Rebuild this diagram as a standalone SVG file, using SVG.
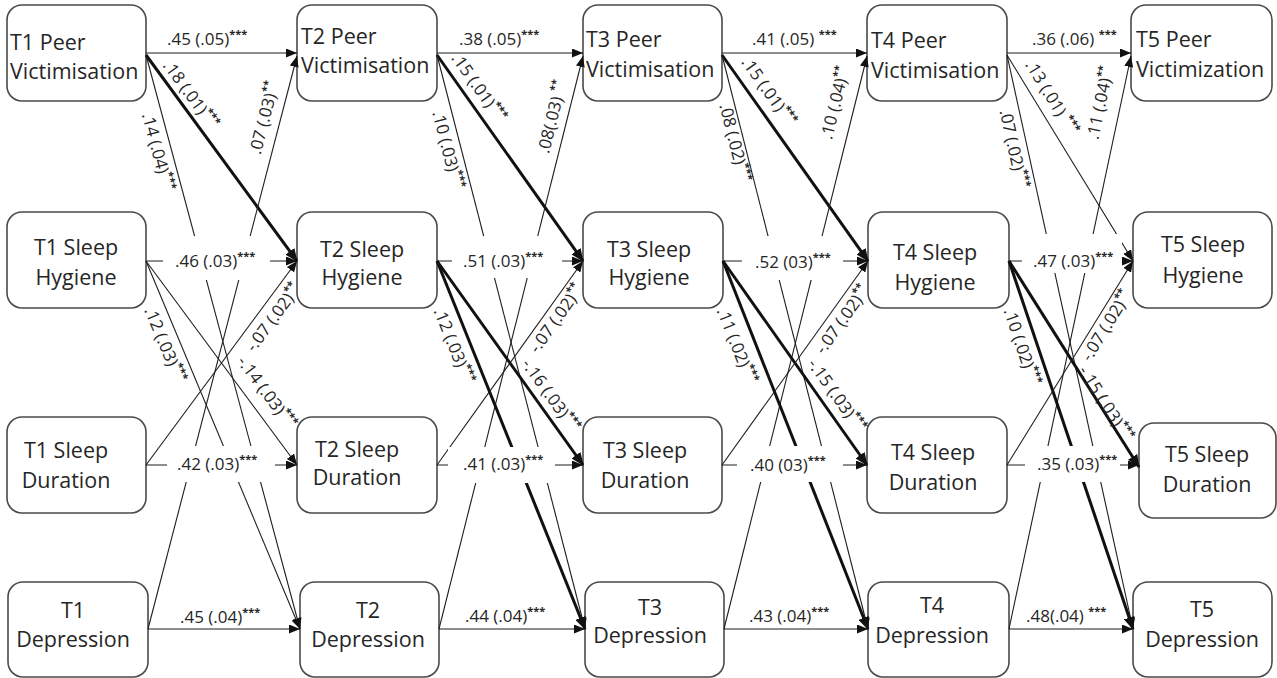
<svg xmlns="http://www.w3.org/2000/svg" width="1277" height="678" viewBox="0 0 1277 678">
<style>
.box{fill:#fff;stroke:#4a4a4a;stroke-width:1.6}
.nt{font-family:'Open Sans','Noto Sans',sans-serif;font-size:21.5px;fill:#262626}
.ntc{text-anchor:middle}
.ln{stroke:#1e1e1e;stroke-width:1.1;fill:none;marker-end:url(#ah)}
.tk{stroke:#111;stroke-width:3;fill:none;marker-end:url(#ahk)}
.lb{font-family:'Open Sans','Noto Sans',sans-serif;font-size:17px;fill:#262626}
.rl{text-anchor:middle}
.st{font-size:11px;font-weight:bold}
.bg{fill:#fff}
</style>
<defs>
<marker id="ah" markerUnits="userSpaceOnUse" markerWidth="11" markerHeight="9" refX="11" refY="4.5" orient="auto"><path d="M0,0 L11,4.5 L0,9 z" fill="#111"/></marker>
<marker id="ahk" markerUnits="userSpaceOnUse" markerWidth="13" markerHeight="11" refX="12" refY="5.5" orient="auto"><path d="M0,0 L13,5.5 L0,11 z" fill="#111"/></marker>
</defs>
<rect width="1277" height="678" fill="#fff"/>

<g id="nodes">
<g id="t1pv"><rect class="box" x="7" y="5" width="139" height="96" rx="15"/><text class="nt" x="10" y="50">T1 Peer</text><text class="nt" x="10" y="79">Victimisation</text></g>
<g id="t2pv"><rect class="box" x="297" y="5" width="140" height="96" rx="15"/><text class="nt" x="301" y="44">T2 Peer</text><text class="nt" x="301" y="73">Victimisation</text></g>
<g id="t3pv"><rect class="box" x="583" y="5" width="139" height="96" rx="15"/><text class="nt" x="586" y="47">T3 Peer</text><text class="nt" x="586" y="77">Victimisation</text></g>
<g id="t4pv"><rect class="box" x="867" y="5" width="140" height="96" rx="15"/><text class="nt" x="871" y="48">T4 Peer</text><text class="nt" x="871" y="78">Victimisation</text></g>
<g id="t5pv"><rect class="box" x="1131" y="5" width="141" height="96" rx="15"/><text class="nt" x="1136" y="47">T5 Peer</text><text class="nt" x="1136" y="77">Victimization</text></g>

<g id="t1sh"><rect class="box" x="7" y="212" width="139" height="96" rx="15"/><text class="nt ntc" x="76" y="255">T1 Sleep</text><text class="nt ntc" x="76" y="285">Hygiene</text></g>
<g id="t2sh"><rect class="box" x="297" y="212" width="140" height="96" rx="15"/><text class="nt ntc" x="362" y="257">T2 Sleep</text><text class="nt ntc" x="362" y="285">Hygiene</text></g>
<g id="t3sh"><rect class="box" x="583" y="212" width="140" height="96" rx="15"/><text class="nt ntc" x="649" y="257">T3 Sleep</text><text class="nt ntc" x="649" y="285">Hygiene</text></g>
<g id="t4sh"><rect class="box" x="868" y="212" width="141" height="96" rx="15"/><text class="nt ntc" x="935" y="260">T4 Sleep</text><text class="nt ntc" x="935" y="290">Hygiene</text></g>
<g id="t5sh"><rect class="box" x="1133" y="212" width="139" height="96" rx="15"/><text class="nt ntc" x="1203" y="252">T5 Sleep</text><text class="nt ntc" x="1203" y="283">Hygiene</text></g>

<g id="t1sd"><rect class="box" x="7" y="417" width="139" height="96" rx="15"/><text class="nt ntc" x="66" y="458">T1 Sleep</text><text class="nt ntc" x="66" y="488">Duration</text></g>
<g id="t2sd"><rect class="box" x="297" y="417" width="140" height="96" rx="15"/><text class="nt ntc" x="357" y="457">T2 Sleep</text><text class="nt ntc" x="357" y="485">Duration</text></g>
<g id="t3sd"><rect class="box" x="583" y="417" width="139" height="96" rx="15"/><text class="nt ntc" x="645" y="458">T3 Sleep</text><text class="nt ntc" x="645" y="488">Duration</text></g>
<g id="t4sd"><rect class="box" x="867" y="417" width="140" height="96" rx="15"/><text class="nt ntc" x="933" y="460">T4 Sleep</text><text class="nt ntc" x="933" y="490">Duration</text></g>
<g id="t5sd"><rect class="box" x="1139" y="423" width="137" height="95" rx="15"/><text class="nt ntc" x="1207" y="462">T5 Sleep</text><text class="nt ntc" x="1207" y="492">Duration</text></g>

<g id="t1dep"><rect class="box" x="8" y="582" width="140" height="95" rx="15"/><text class="nt ntc" x="73" y="618">T1</text><text class="nt ntc" x="73" y="647">Depression</text></g>
<g id="t2dep"><rect class="box" x="300" y="582" width="139" height="95" rx="15"/><text class="nt ntc" x="368" y="618">T2</text><text class="nt ntc" x="368" y="647">Depression</text></g>
<g id="t3dep"><rect class="box" x="585" y="582" width="139" height="95" rx="15"/><text class="nt ntc" x="650" y="615">T3</text><text class="nt ntc" x="650" y="643">Depression</text></g>
<g id="t4dep"><rect class="box" x="868" y="582" width="141" height="95" rx="15"/><text class="nt ntc" x="932" y="613">T4</text><text class="nt ntc" x="932" y="643">Depression</text></g>
<g id="t5dep"><rect class="box" x="1133" y="582" width="139" height="95" rx="15"/><text class="nt ntc" x="1202" y="617">T5</text><text class="nt ntc" x="1202" y="647">Depression</text></g>
</g>

<g id="connectors">
<!-- T1 to T2 -->
<line class="ln" x1="146" y1="53" x2="297" y2="53"/>
<line class="tk" x1="146" y1="55" x2="297" y2="261"/>
<line class="ln" x1="146" y1="55" x2="300" y2="629"/>
<line class="ln" x1="148" y1="629" x2="297" y2="56"/>
<line class="ln" x1="146" y1="261" x2="297" y2="261"/>
<line class="ln" x1="146" y1="261" x2="297" y2="465"/>
<line class="ln" x1="146" y1="261" x2="300" y2="629"/>
<line class="ln" x1="146" y1="465" x2="297" y2="261"/>
<line class="ln" x1="146" y1="465" x2="297" y2="465"/>
<line class="ln" x1="148" y1="629" x2="300" y2="629"/>
<!-- T2 to T3 -->
<line class="ln" x1="437" y1="53" x2="583" y2="53"/>
<line class="tk" x1="437" y1="55" x2="583" y2="261"/>
<line class="ln" x1="437" y1="55" x2="585" y2="629"/>
<line class="ln" x1="439" y1="629" x2="583" y2="56"/>
<line class="ln" x1="437" y1="261" x2="583" y2="261"/>
<line class="tk" x1="437" y1="261" x2="583" y2="465"/>
<line class="tk" x1="437" y1="261" x2="585" y2="629"/>
<line class="ln" x1="437" y1="465" x2="583" y2="261"/>
<line class="ln" x1="437" y1="465" x2="583" y2="465"/>
<line class="ln" x1="439" y1="629" x2="585" y2="629"/>
<!-- T3 to T4 -->
<line class="ln" x1="722" y1="53" x2="867" y2="53"/>
<line class="tk" x1="722" y1="55" x2="868" y2="261"/>
<line class="ln" x1="722" y1="55" x2="868" y2="629"/>
<line class="ln" x1="724" y1="629" x2="867" y2="56"/>
<line class="ln" x1="723" y1="261" x2="868" y2="261"/>
<line class="tk" x1="723" y1="261" x2="867" y2="465"/>
<line class="tk" x1="723" y1="261" x2="868" y2="629"/>
<line class="ln" x1="722" y1="465" x2="868" y2="261"/>
<line class="ln" x1="722" y1="465" x2="867" y2="465"/>
<line class="ln" x1="724" y1="629" x2="868" y2="629"/>
<!-- T4 to T5 -->
<line class="ln" x1="1007" y1="53" x2="1131" y2="53"/>
<line class="ln" x1="1007" y1="55" x2="1133" y2="261"/>
<line class="ln" x1="1007" y1="55" x2="1133" y2="629"/>
<line class="ln" x1="1009" y1="629" x2="1131" y2="56"/>
<line class="ln" x1="1009" y1="261" x2="1133" y2="261"/>
<line class="tk" x1="1009" y1="261" x2="1139" y2="467"/>
<line class="tk" x1="1009" y1="261" x2="1133" y2="629"/>
<line class="ln" x1="1007" y1="465" x2="1139" y2="465"/>
<line class="ln" x1="1009" y1="629" x2="1133" y2="629"/>
</g>

<g id="edge-labels">
<rect class="bg" x="163" y="236" width="107" height="44"/>
<rect class="bg" x="167" y="446" width="108" height="36"/>
<rect class="bg" x="452" y="236" width="110" height="42"/>
<rect class="bg" x="448" y="447" width="107" height="36"/>
<rect class="bg" x="742" y="236" width="101" height="44"/>
<rect class="bg" x="737" y="446" width="106" height="36"/>
<rect class="bg" x="1022" y="234" width="100" height="39"/>
<rect class="bg" x="1025" y="446" width="95" height="36"/>
<line class="ln" x1="1007" y1="465" x2="1133" y2="261"/>

<text class="lb" x="167" y="45">.45 (.05)<tspan class="st" dy="-7">***</tspan></text>
<text class="lb" x="459" y="45">.38 (.05)<tspan class="st" dy="-7">***</tspan></text>
<text class="lb" x="752" y="45">.41 (.05) <tspan class="st" dy="-7">***</tspan></text>
<text class="lb" x="1032" y="45">.36 (.06) <tspan class="st" dy="-7">***</tspan></text>

<text class="lb" x="175" y="267">.46 (.03)<tspan class="st" dy="-7">***</tspan></text>
<text class="lb" x="463" y="267">.51 (.03)<tspan class="st" dy="-7">***</tspan></text>
<text class="lb" x="755" y="268">.52 (03)<tspan class="st" dy="-7">***</tspan></text>
<text class="lb" x="1033" y="267">.47 (.03)<tspan class="st" dy="-7">***</tspan></text>

<text class="lb" x="177" y="470">.42 (.03)<tspan class="st" dy="-7">***</tspan></text>
<text class="lb" x="463" y="470">.41 (.03)<tspan class="st" dy="-7">***</tspan></text>
<text class="lb" x="750" y="471">.40 (03)<tspan class="st" dy="-7">***</tspan></text>
<text class="lb" x="1037" y="470">.35 (.03)<tspan class="st" dy="-7">***</tspan></text>

<text class="lb" x="180" y="623">.45 (.04)<tspan class="st" dy="-7">***</tspan></text>
<text class="lb" x="465" y="622">.44 (.04)<tspan class="st" dy="-7">***</tspan></text>
<text class="lb" x="749" y="622">.43 (.04)<tspan class="st" dy="-7">***</tspan></text>
<text class="lb" x="1026" y="622">.48(.04) <tspan class="st" dy="-7">***</tspan></text>

<!-- rotated T1-T2 -->
<text class="lb rl" transform="translate(190 95) rotate(53.9)" y="5">.18 (.01)<tspan class="st" dy="-7">***</tspan></text>
<text class="lb rl" transform="translate(157 152) rotate(75)" y="5">.14 (.04)<tspan class="st" dy="-7">***</tspan></text>
<text class="lb rl" transform="translate(265 118) rotate(-75.5)" y="5">.07 (.03)<tspan class="st" dy="-7">**</tspan></text>
<text class="lb rl" transform="translate(164 345) rotate(67.3)" y="5">.12 (.03)<tspan class="st" dy="-7">***</tspan></text>
<text class="lb rl" transform="translate(274 318) rotate(-53.5)" y="5">-.07 (.02)<tspan class="st" dy="-7">**</tspan></text>
<text class="lb rl" transform="translate(266 393) rotate(53.5)" y="5">-.14 (.03)<tspan class="st" dy="-7">***</tspan></text>
<!-- rotated T2-T3 -->
<text class="lb rl" transform="translate(478 88) rotate(54.8)" y="5">.15 (.01)<tspan class="st" dy="-7">***</tspan></text>
<text class="lb rl" transform="translate(447 150) rotate(75.6)" y="5">.10 (.03)<tspan class="st" dy="-7">***</tspan></text>
<text class="lb rl" transform="translate(553 117) rotate(-75.9)" y="5">.08(.03) <tspan class="st" dy="-7">**</tspan></text>
<text class="lb rl" transform="translate(453 346) rotate(68.1)" y="5">.12 (.03)<tspan class="st" dy="-7">***</tspan></text>
<text class="lb rl" transform="translate(557 319) rotate(-54.4)" y="5">-.07 (.02)<tspan class="st" dy="-7">**</tspan></text>
<text class="lb rl" transform="translate(550 396) rotate(54.4)" y="5">-.16 (.03)<tspan class="st" dy="-7">***</tspan></text>
<!-- rotated T3-T4 -->
<text class="lb rl" transform="translate(768 92) rotate(54.8)" y="5">.15 (.01)<tspan class="st" dy="-7">***</tspan></text>
<text class="lb rl" transform="translate(734 143) rotate(75.8)" y="5">.08 (.02)<tspan class="st" dy="-7">***</tspan></text>
<text class="lb rl" transform="translate(836 103) rotate(-76)" y="5">.10 (.04)<tspan class="st" dy="-7">**</tspan></text>
<text class="lb rl" transform="translate(736 346) rotate(68.4)" y="5">.11 (.02)<tspan class="st" dy="-7">***</tspan></text>
<text class="lb rl" transform="translate(843 320) rotate(-54.4)" y="5">-.07 (.02)<tspan class="st" dy="-7">**</tspan></text>
<text class="lb rl" transform="translate(836 396) rotate(54.6)" y="5">-.15 (.03)<tspan class="st" dy="-7">***</tspan></text>
<!-- rotated T4-T5 -->
<text class="lb rl" transform="translate(1051 98) rotate(58.7)" y="5">.13 (.01) <tspan class="st" dy="-7">***</tspan></text>
<text class="lb rl" transform="translate(1013 149) rotate(77.6)" y="5">.07 (.02)<tspan class="st" dy="-7">***</tspan></text>
<text class="lb rl" transform="translate(1101 103) rotate(-78)" y="5">.11 (.04)<tspan class="st" dy="-7">**</tspan></text>
<text class="lb rl" transform="translate(1021 347) rotate(71.4)" y="5">.10 (.02)<tspan class="st" dy="-7">***</tspan></text>
<text class="lb rl" transform="translate(1107 326) rotate(-58.3)" y="5">-.07 (.02)<tspan class="st" dy="-7">**</tspan></text>
<text class="lb rl" transform="translate(1105 404) rotate(57.5)" y="5">-.15 (.03)<tspan class="st" dy="-7">***</tspan></text>
</g>
</svg>
